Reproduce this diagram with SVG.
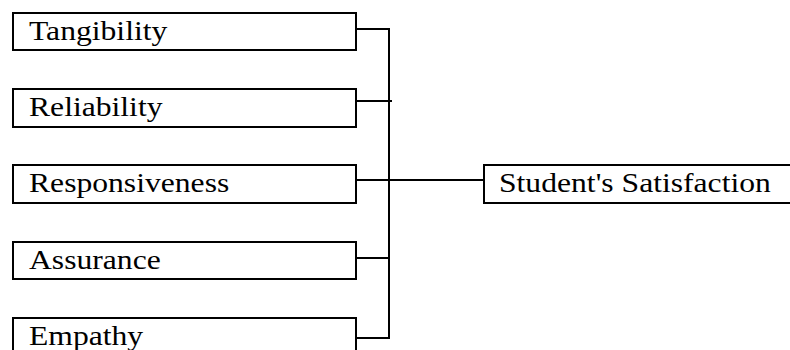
<svg xmlns="http://www.w3.org/2000/svg" width="790" height="350" viewBox="0 0 790 350">
  <style>
    .box { fill: #ffffff; stroke: #000000; stroke-width: 2; }
    .label { font-family: 'Liberation Serif', 'Times New Roman', Times, serif; font-size: 28px; fill: #000000; }
    .wire { fill: none; stroke: #000000; stroke-width: 2; }
  </style>
  <rect width="790" height="350" fill="#ffffff"/>

  <!-- connectors: each factor joins the shared vertical bus -->
  <g id="connectors">
    <line class="wire" x1="389" y1="28" x2="389" y2="339"/>
    <line class="wire" x1="354" y1="29" x2="390" y2="29"/>
    <line class="wire" x1="356" y1="101" x2="392" y2="101"/>
    <line class="wire" x1="356" y1="180" x2="484" y2="180"/>
    <line class="wire" x1="354" y1="258" x2="390" y2="258"/>
    <line class="wire" x1="353" y1="338" x2="390" y2="338"/>
  </g>

  <!-- labels are set slightly wide (scale 1.13 horizontally) -->
  <g id="tangibility">
    <rect class="box" x="13" y="13" width="343" height="37"/>
    <text class="label" transform="translate(29,40) scale(1.13,1)">Tangibility</text>
  </g>
  <g id="reliability">
    <rect class="box" x="13" y="89" width="343" height="38"/>
    <text class="label" transform="translate(29,116) scale(1.13,1)">Reliability</text>
  </g>
  <g id="responsiveness">
    <rect class="box" x="13" y="165" width="343" height="38"/>
    <text class="label" transform="translate(29,192) scale(1.13,1)">Responsiveness</text>
  </g>
  <g id="assurance">
    <rect class="box" x="13" y="242" width="343" height="37"/>
    <text class="label" transform="translate(29,269) scale(1.13,1)">Assurance</text>
  </g>
  <g id="empathy">
    <rect class="box" x="13" y="318" width="343" height="40"/>
    <text class="label" transform="translate(29,345) scale(1.13,1)">Empathy</text>
  </g>
  <g id="student-satisfaction">
    <rect class="box" x="484" y="165" width="320" height="38"/>
    <text class="label" transform="translate(499,192) scale(1.13,1)">Student's Satisfaction</text>
  </g>
</svg>
